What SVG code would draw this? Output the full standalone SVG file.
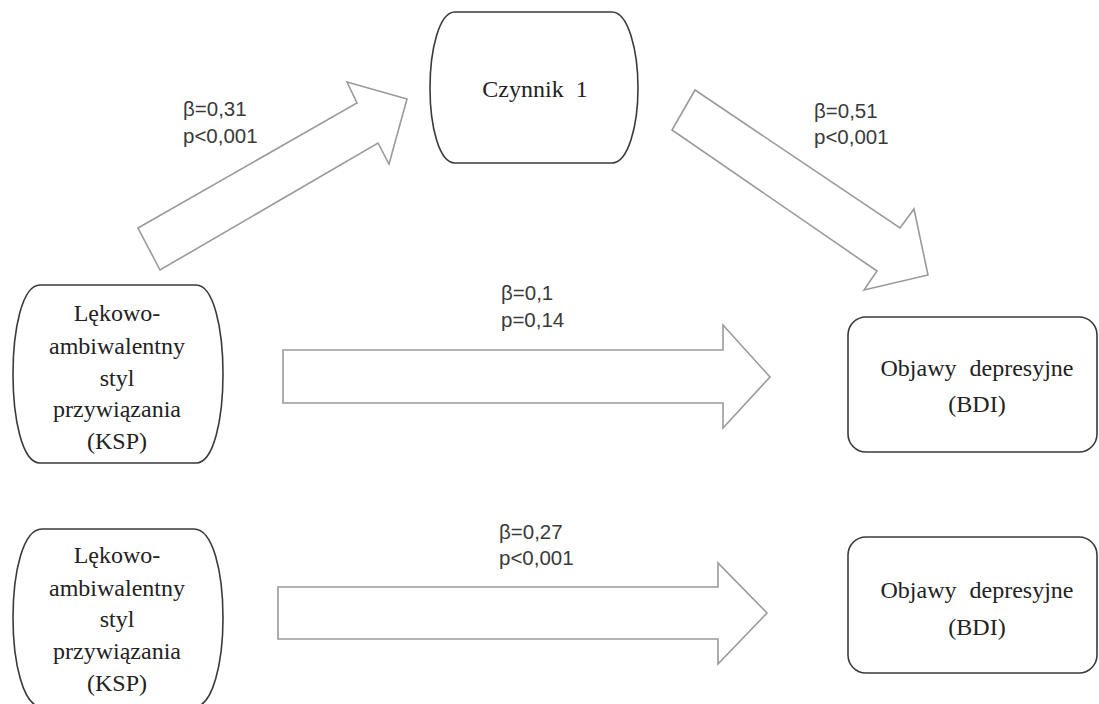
<svg xmlns="http://www.w3.org/2000/svg" width="1099" height="704" viewBox="0 0 1099 704">
<style>
.node{fill:#fff;stroke:#3a3a3a;stroke-width:1.6}
.arrow{fill:#fff;stroke:#9a9a9a;stroke-width:1.6;stroke-linejoin:miter}
.nt{font-family:"Liberation Serif","Times New Roman",serif;font-size:24px;fill:#222;text-anchor:middle}
.lb{font-family:"Liberation Sans",Arial,sans-serif;font-size:20.5px;fill:#3a3a3a}
</style>
<rect width="1099" height="704" fill="#fff"/>
<g id="connectors">
<polygon class="arrow" points="138,228 357,103 347,82 407,99 389,164 378,143 160,270"/>
<polygon class="arrow" points="695,90 900,228 914,209 928,275 864,290 877,271 672,130"/>
<polygon class="arrow" points="283,350 723,350 723,325 770,377 723,428 723,403 283,403"/>
<polygon class="arrow" points="278,587 718,587 718,563 767,613 718,664 718,639 278,639"/>
<text class="lb" x="183" y="116">β=0,31</text>
<text class="lb" x="183" y="143">p&lt;0,001</text>
<text class="lb" x="814" y="118">β=0,51</text>
<text class="lb" x="814" y="144">p&lt;0,001</text>
<text class="lb" x="501" y="300">β=0,1</text>
<text class="lb" x="501" y="327">p=0,14</text>
<text class="lb" x="499" y="539">β=0,27</text>
<text class="lb" x="499" y="565">p&lt;0,001</text>
</g>
<g id="node-czynnik">
<path class="node" d="M455,12 H612 C628,12 638,50 638,88 C638,126 628,163 612,163 H455 C439,163 430,126 430,88 C430,50 439,12 455,12 Z"/>
<text class="nt" x="535" y="97" word-spacing="6">Czynnik 1</text>
</g>
<g id="node-ksp1">
<path class="node" d="M40,285 H196 C214,285 223,330 223,374 C223,418 214,463 196,463 H40 C22,463 13,418 13,374 C13,330 22,285 40,285 Z"/>
<text class="nt" x="117" y="321">Lękowo-</text>
<text class="nt" x="117" y="354">ambiwalentny</text>
<text class="nt" x="117" y="386">styl</text>
<text class="nt" x="117" y="417">przywiązania</text>
<text class="nt" x="117" y="449">(KSP)</text>
</g>
<g id="node-bdi1">
<rect class="node" x="848" y="317" width="249" height="135" rx="18" ry="18"/>
<text class="nt" x="977" y="376" word-spacing="7">Objawy depresyjne</text>
<text class="nt" x="977" y="412">(BDI)</text>
</g>
<g id="node-ksp2">
<path class="node" d="M42,529 H194 C213,529 223,572 223,618 C223,662 213,707 194,707 H42 C23,707 13,662 13,618 C13,572 23,529 42,529 Z"/>
<text class="nt" x="117" y="563">Lękowo-</text>
<text class="nt" x="117" y="596">ambiwalentny</text>
<text class="nt" x="117" y="627">styl</text>
<text class="nt" x="117" y="659">przywiązania</text>
<text class="nt" x="117" y="691">(KSP)</text>
</g>
<g id="node-bdi2">
<rect class="node" x="848" y="537" width="249" height="136" rx="18" ry="18"/>
<text class="nt" x="977" y="598" word-spacing="7">Objawy depresyjne</text>
<text class="nt" x="977" y="635">(BDI)</text>
</g>
</svg>
